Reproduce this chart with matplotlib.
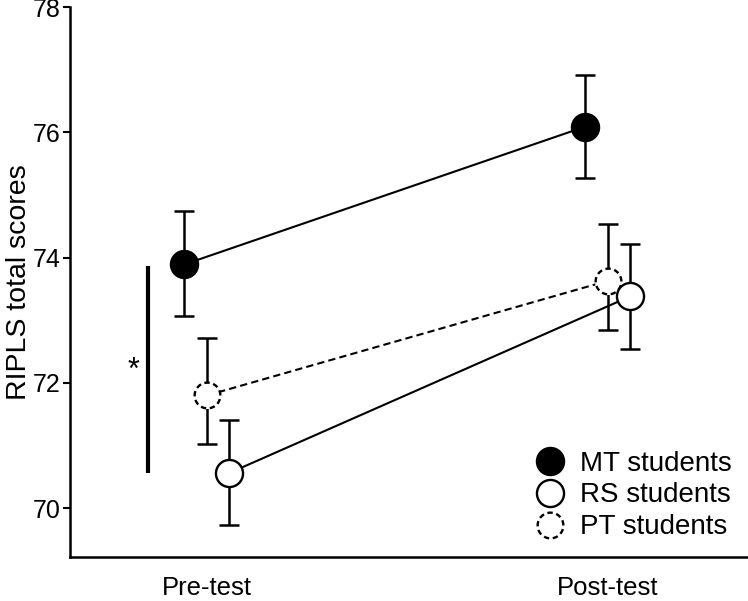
import numpy as np
import matplotlib
matplotlib.use("Agg")
import matplotlib.pyplot as plt
from matplotlib.path import Path
from matplotlib.lines import Line2D

plt.rcParams['font.family'] = ['Liberation Sans', 'DejaVu Sans']

# ---- data ----
phases = ["Pre-test", "Post-test"]
groups = ["MT students", "RS students", "PT students"]
mt_mean = [73.89, 76.09]
mt_lo = [73.07, 75.27]
mt_hi = [74.74, 76.92]
rs_mean = [70.56, 73.38]
rs_lo = [69.73, 72.54]
rs_hi = [71.41, 74.22]
pt_mean = [71.80, 73.63]
pt_lo = [71.02, 72.84]
pt_hi = [72.71, 74.54]
yticks = [70, 72, 74, 76, 78]
sig_range = [70.56, 73.87]

# ---- layout ----
fig = plt.figure(figsize=(7.48, 6.01), dpi=100)
ax = fig.add_axes([70/748, 44/601, 1 - 70/748, (557-7)/601])

x = np.arange(len(phases))
offs = {"MT": -0.057, "RS": 0.055, "PT": 0.0}

# dashed circle marker
def dashed_circle(n=9, duty=0.6, pts=12):
    verts, codes = [], []
    for i in range(n):
        a0 = 2*np.pi*i/n
        a1 = a0 + 2*np.pi/n*duty
        t = np.linspace(a0, a1, pts)
        for j, tt in enumerate(t):
            verts.append((np.cos(tt), np.sin(tt)))
            codes.append(Path.MOVETO if j == 0 else Path.LINETO)
    return Path(verts, codes)

dc = dashed_circle()
ms = 19.5
mew = 1.7
lw = 1.5
elw = 1.8

def series(mean, lo, hi, off, ls, z, face, dashed=False):
    xs = x + off
    mean = np.array(mean); lo = np.array(lo); hi = np.array(hi)
    if ls == '--':
        ax.plot(xs, mean, color='black', lw=lw, ls='--', dashes=(3.5, 2), zorder=z)
    else:
        ax.plot(xs, mean, color='black', lw=lw, ls='-', zorder=z)
    ax.errorbar(xs, mean, yerr=[mean - lo, hi - mean], fmt='none',
                ecolor='black', elinewidth=elw, capsize=7.5, capthick=elw, zorder=z)
    if dashed:
        ax.plot(xs, mean, ls='none', marker='o', ms=ms, mfc='white', mec='white',
                mew=0, zorder=z + 0.5)
        ax.plot(xs, mean, ls='none', marker=dc, ms=ms - 1, mfc='none', mec='black',
                mew=mew, zorder=z + 0.6)
    else:
        ax.plot(xs, mean, ls='none', marker='o', ms=ms, mfc=face, mec='black',
                mew=mew, zorder=z + 0.5)

series(pt_mean, pt_lo, pt_hi, offs["PT"], '--', 2, 'white', dashed=True)
series(rs_mean, rs_lo, rs_hi, offs["RS"], '-', 4, 'white')
series(mt_mean, mt_lo, mt_hi, offs["MT"], '-', 6, 'black')

# significance bar
ax.plot([-0.147, -0.147], sig_range, color='black', lw=3, solid_capstyle='butt', zorder=2)
ax.text(-0.184, np.mean(sig_range) - 0.03, "*", fontsize=22, ha='center', va='center')

# axes
ax.set_xlim(-0.342, 1.349)
ax.set_ylim(69.22, 78.0)
ax.set_yticks(yticks)
ax.set_xticks(x)
ax.set_xticklabels(phases)
ax.tick_params(axis='y', labelsize=18, length=5, width=1.5, direction='out', pad=2)
ax.tick_params(axis='x', labelsize=18.5, length=0, pad=14)
for s in ['top', 'right']:
    ax.spines[s].set_visible(False)
for s in ['left', 'bottom']:
    ax.spines[s].set_linewidth(1.8)
ax.set_ylabel("RIPLS total scores", fontsize=20.5, labelpad=0)

# legend
h_mt = Line2D([], [], ls='none', marker='o', ms=ms, mfc='black', mec='black', mew=mew)
h_rs = Line2D([], [], ls='none', marker='o', ms=ms, mfc='white', mec='black', mew=mew)
h_pt = Line2D([], [], ls='none', marker=dc, ms=ms - 1, mfc='none', mec='black', mew=mew)
ax.legend([h_mt, h_rs, h_pt], groups, loc='lower right', bbox_to_anchor=(1.0, 0.0),
          frameon=False, fontsize=20, handlelength=1.0, handletextpad=0.55,
          labelspacing=0.21, borderaxespad=0.3, borderpad=0.3)

fig.savefig("out.png", dpi=100)
